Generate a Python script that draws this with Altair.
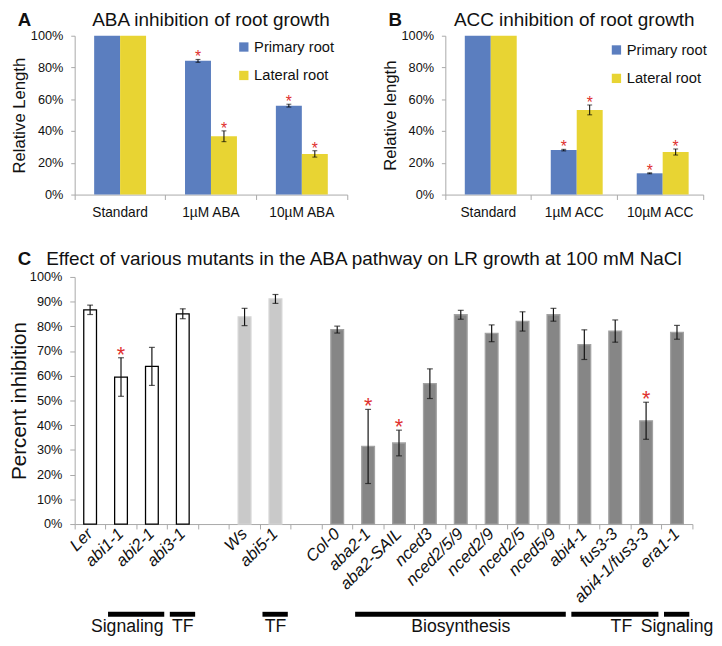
import altair as alt
import pandas as pd

FONT = "Liberation Sans"
BLUE = "#5B7EBF"
YELLOW = "#E8D433"
STAR_RED = "#E0312F"
AXIS_GRAY = "#A8A8A8"
TEXT = "#111111"

series_names = ["Primary root", "Lateral root"]

# ---------------- Panel A ----------------
a_conditions = ["Standard", "1µM ABA", "10µM ABA"]
a_primary = [100, 84.2, 56.0]
a_primary_err = [0, 0.9, 0.9]
a_lateral = [100, 36.7, 25.6]
a_lateral_err = [0, 3.4, 2.0]
a_primary_sig = [False, True, True]
a_lateral_sig = [False, True, True]

# ---------------- Panel B ----------------
b_conditions = ["Standard", "1µM ACC", "10µM ACC"]
b_primary = [100, 28.0, 13.4]
b_primary_err = [0, 0.5, 0.3]
b_lateral = [100, 53.3, 26.8]
b_lateral_err = [0, 3.1, 1.9]
b_primary_sig = [False, True, True]
b_lateral_sig = [False, True, True]

# ---------------- Panel C ----------------
c_lines = ["Ler", "abi1-1", "abi2-1", "abi3-1", " ", "Ws", "abi5-1", "  ",
           "Col-0", "aba2-1", "aba2-SAIL", "nced3", "nced2/5/9", "nced2/9",
           "nced2/5", "nced5/9", "abi4-1", "fus3-3", "abi4-1/fus3-3", "era1-1"]
c_background = ["Ler", "Ler", "Ler", "Ler", None, "Ws", "Ws", None,
                "Col-0", "Col-0", "Col-0", "Col-0", "Col-0", "Col-0",
                "Col-0", "Col-0", "Col-0", "Col-0", "Col-0", "Col-0"]
c_inhibition = [86.7, 59.5, 63.8, 85.1, None, 83.8, 91.1, None,
                78.7, 31.4, 32.8, 56.8, 84.7, 77.2, 82.0, 84.7, 72.6, 78.1, 41.8, 77.6]
c_err = [1.9, 7.8, 7.7, 2.0, None, 3.5, 1.8, None,
         1.4, 15.0, 5.2, 6.0, 1.8, 3.4, 3.9, 2.6, 6.0, 4.5, 7.5, 2.8]
c_sig = [False, True, False, False, False, False, False, False,
         False, True, True, False, False, False, False, False, False, False, True, False]
c_title = "Effect of various mutants in the ABA pathway on LR growth at 100 mM NaCl"

group_labels = ["Signaling", "TF", "TF", "Biosynthesis", "TF", "Signaling"]
group_first = ["abi1-1", "abi3-1", "abi5-1", "aba2-1", "abi4-1", "era1-1"]
group_last = ["abi2-1", "abi3-1", "abi5-1", "nced5/9", "abi4-1/fus3-3", "era1-1"]


def header(letter, title, title_x, title_align, base_y):
    letter_mark = alt.Chart(pd.DataFrame({"t": [letter]})).mark_text(
        fontSize=19, fontWeight="bold", align="left", baseline="alphabetic", color=TEXT
    ).encode(text="t:N", x=alt.value(-58), y=alt.value(base_y))
    title_mark = alt.Chart(pd.DataFrame({"t": [title]})).mark_text(
        fontSize=19.3, align=title_align, baseline="alphabetic", color=TEXT
    ).encode(text="t:N", x=alt.value(title_x), y=alt.value(base_y))
    return letter_mark, title_mark


def grouped_panel(conds, prim, prim_err, lat, lat_err, prim_sig, lat_sig,
                  title, ytitle, letter, width, height, legend_x, legend_y):
    n = len(conds)
    df = pd.DataFrame({
        "cond": conds * 2,
        "series": [series_names[0]] * n + [series_names[1]] * n,
        "value": prim + lat,
        "err": prim_err + lat_err,
        "sig": prim_sig + lat_sig,
    })
    df["lo"] = df["value"] - df["err"]
    df["hi"] = df["value"] + df["err"]
    xaxis = alt.Axis(labelAngle=0, bandPosition=1, tickExtra=True,
                     labelFontSize=14, labelPadding=6,
                     tickSize=5, domainColor=AXIS_GRAY, tickColor=AXIS_GRAY,
                     labelColor=TEXT, title=None)
    xenc = alt.X("cond:N", sort=conds,
                 scale=alt.Scale(domain=conds, paddingInner=0, paddingOuter=0),
                 axis=xaxis)
    xo = alt.XOffset("series:N", sort=series_names,
                     scale=alt.Scale(domain=series_names, paddingOuter=0.75, paddingInner=0))
    yscale = alt.Scale(domain=[0, 100], nice=False)
    yaxis = alt.Axis(values=list(range(0, 101, 20)), labelExpr="datum.value + '%'",
                     title=ytitle, grid=False, labelFontSize=13, labelPadding=8,
                     tickSize=4, domainColor=AXIS_GRAY, tickColor=AXIS_GRAY,
                     labelColor=TEXT, titleFontSize=17, titleFontWeight="normal",
                     titleColor=TEXT, titlePadding=2)
    base = alt.Chart(df)
    bars = base.mark_bar().encode(
        x=xenc, xOffset=xo,
        y=alt.Y("value:Q", scale=yscale, axis=yaxis),
        color=alt.Color("series:N", sort=series_names,
                        scale=alt.Scale(domain=series_names, range=[BLUE, YELLOW]),
                        legend=alt.Legend(orient="none", legendX=legend_x, legendY=legend_y,
                                          title=None, symbolType="square", symbolSize=90,
                                          symbolStrokeWidth=0, labelFontSize=15,
                                          labelColor=TEXT, rowPadding=13, labelOffset=3)),
    )
    eb = base.transform_filter("datum.err > 0")
    rules = eb.mark_rule(color="black", strokeWidth=1).encode(
        x=xenc, xOffset=xo, y=alt.Y("lo:Q", scale=yscale, axis=yaxis), y2="hi:Q")
    cap_lo = eb.mark_tick(color="black", size=5, thickness=1).encode(
        x=xenc, xOffset=xo, y=alt.Y("lo:Q", scale=yscale, axis=yaxis))
    cap_hi = eb.mark_tick(color="black", size=5, thickness=1).encode(
        x=xenc, xOffset=xo, y=alt.Y("hi:Q", scale=yscale, axis=yaxis))
    stars = base.transform_filter("datum.sig").mark_text(
        text="*", color=STAR_RED, fontSize=16, baseline="alphabetic", dy=3).encode(
        x=xenc, xOffset=xo, y=alt.Y("hi:Q", scale=yscale, axis=yaxis))
    letter_mark, title_mark = header(letter, title, width / 2, "center", -10)
    return alt.layer(bars, rules, cap_lo, cap_hi, stars, letter_mark, title_mark).properties(
        width=width, height=height)


panel_a = grouped_panel(a_conditions, a_primary, a_primary_err, a_lateral, a_lateral_err,
                        a_primary_sig, a_lateral_sig, "ABA inhibition of root growth",
                        "Relative Length", "A", 278, 162, 165, 4)
panel_b = grouped_panel(b_conditions, b_primary, b_primary_err, b_lateral, b_lateral_err,
                        b_primary_sig, b_lateral_sig, "ACC inhibition of root growth",
                        "Relative length", "B", 263, 162, 167, 7)

top = alt.hconcat(panel_a, panel_b, spacing=100, bounds="flush").resolve_scale(
    color="independent").resolve_legend(color="independent")

# ---------------- Panel C chart ----------------
C_W, C_H = 630, 252
cdf = pd.DataFrame({"line": c_lines, "bg": c_background, "value": c_inhibition,
                    "err": c_err, "sig": c_sig})
cdf["lo"] = cdf["value"] - cdf["err"]
cdf["hi"] = cdf["value"] + cdf["err"]

cx_axis = alt.Axis(labelAngle=-45, labelAlign="right", labelBaseline="middle",
                   labelFontStyle="italic", labelFontSize=17, labelColor=TEXT,
                   bandPosition=1, tickExtra=True,
                   tickSize=5, labelPadding=2, domainColor=AXIS_GRAY, tickColor=AXIS_GRAY,
                   title=None)
cx = alt.X("line:N", sort=c_lines,
           scale=alt.Scale(domain=c_lines, paddingInner=0, paddingOuter=0), axis=cx_axis)
cy_scale = alt.Scale(domain=[0, 100], nice=False)
cy_axis = alt.Axis(values=list(range(0, 101, 10)), labelExpr="datum.value + '%'",
                   title="Percent inhibition", grid=False, labelFontSize=13, labelPadding=8,
                   tickSize=5, domainColor=AXIS_GRAY, tickColor=AXIS_GRAY, labelColor=TEXT,
                   titleFontSize=21, titleFontWeight="normal", titleColor=TEXT, titlePadding=0)

cbase = alt.Chart(cdf).transform_filter("isValid(datum.value)")
bg_domain = ["Ler", "Ws", "Col-0"]
c_bars = cbase.mark_bar(width=13, strokeWidth=1.3).encode(
    x=cx, y=alt.Y("value:Q", scale=cy_scale, axis=cy_axis),
    fill=alt.Fill("bg:N", scale=alt.Scale(domain=bg_domain, range=["#FFFFFF", "#C9C9C9", "#868686"]),
                  legend=None),
    stroke=alt.Stroke("bg:N", scale=alt.Scale(domain=bg_domain, range=["#000000", "#D4D4D4", "#A2A2A2"]),
                      legend=None),
)
c_rules = cbase.mark_rule(color="#111111", strokeWidth=1.2).encode(
    x=cx, y=alt.Y("lo:Q", scale=cy_scale, axis=cy_axis), y2="hi:Q")
c_cap_lo = cbase.mark_tick(color="#111111", size=6, thickness=1.2).encode(
    x=cx, y=alt.Y("lo:Q", scale=cy_scale, axis=cy_axis))
c_cap_hi = cbase.mark_tick(color="#111111", size=6, thickness=1.2).encode(
    x=cx, y=alt.Y("hi:Q", scale=cy_scale, axis=cy_axis))
c_stars = cbase.transform_filter("datum.sig").mark_text(
    text="*", color=STAR_RED, fontSize=22, baseline="alphabetic", dy=4).encode(
    x=cx, y=alt.Y("hi:Q", scale=cy_scale, axis=cy_axis))
c_letter, c_title_mark = header("C", c_title, -29, "left", -12)

c_main = alt.layer(c_bars, c_rules, c_cap_lo, c_cap_hi, c_stars, c_letter, c_title_mark)

gdf = pd.DataFrame({"label": group_labels,
                    "start": [c_lines.index(f) for f in group_first],
                    "end": [c_lines.index(l) + 1 for l in group_last]})
slot_scale = alt.Scale(domain=[0, len(c_lines)], nice=False, zero=False)
gbase = alt.Chart(gdf).transform_window(
    gi="row_number()"
).transform_calculate(
    s="datum.start + 0.08", e="datum.end - 0.1",
    mid="(datum.start + datum.end) / 2 + (datum.gi == 1 ? -0.3 : 0) + (datum.gi == 5 ? 0.2 : 0)")
g_rules = gbase.mark_rule(color="black", strokeWidth=5).encode(
    x=alt.X("s:Q", scale=slot_scale, axis=None), x2="e:Q", y=alt.value(C_H + 92))
g_text = gbase.mark_text(fontSize=18, baseline="alphabetic", color=TEXT).encode(
    x=alt.X("mid:Q", scale=slot_scale, axis=None), y=alt.value(C_H + 110), text="label:N")
g_layer = alt.layer(g_rules, g_text)

panel_c = alt.layer(c_main, g_layer).resolve_scale(x="independent").properties(
    width=C_W, height=C_H)

chart = alt.vconcat(top, panel_c, spacing=32,
                    padding={"left": 0, "top": -3, "right": 0, "bottom": 0}).configure(
    font=FONT).configure_view(stroke=None)

chart.save("out.html", embed_options={"renderer": "svg", "actions": False})
